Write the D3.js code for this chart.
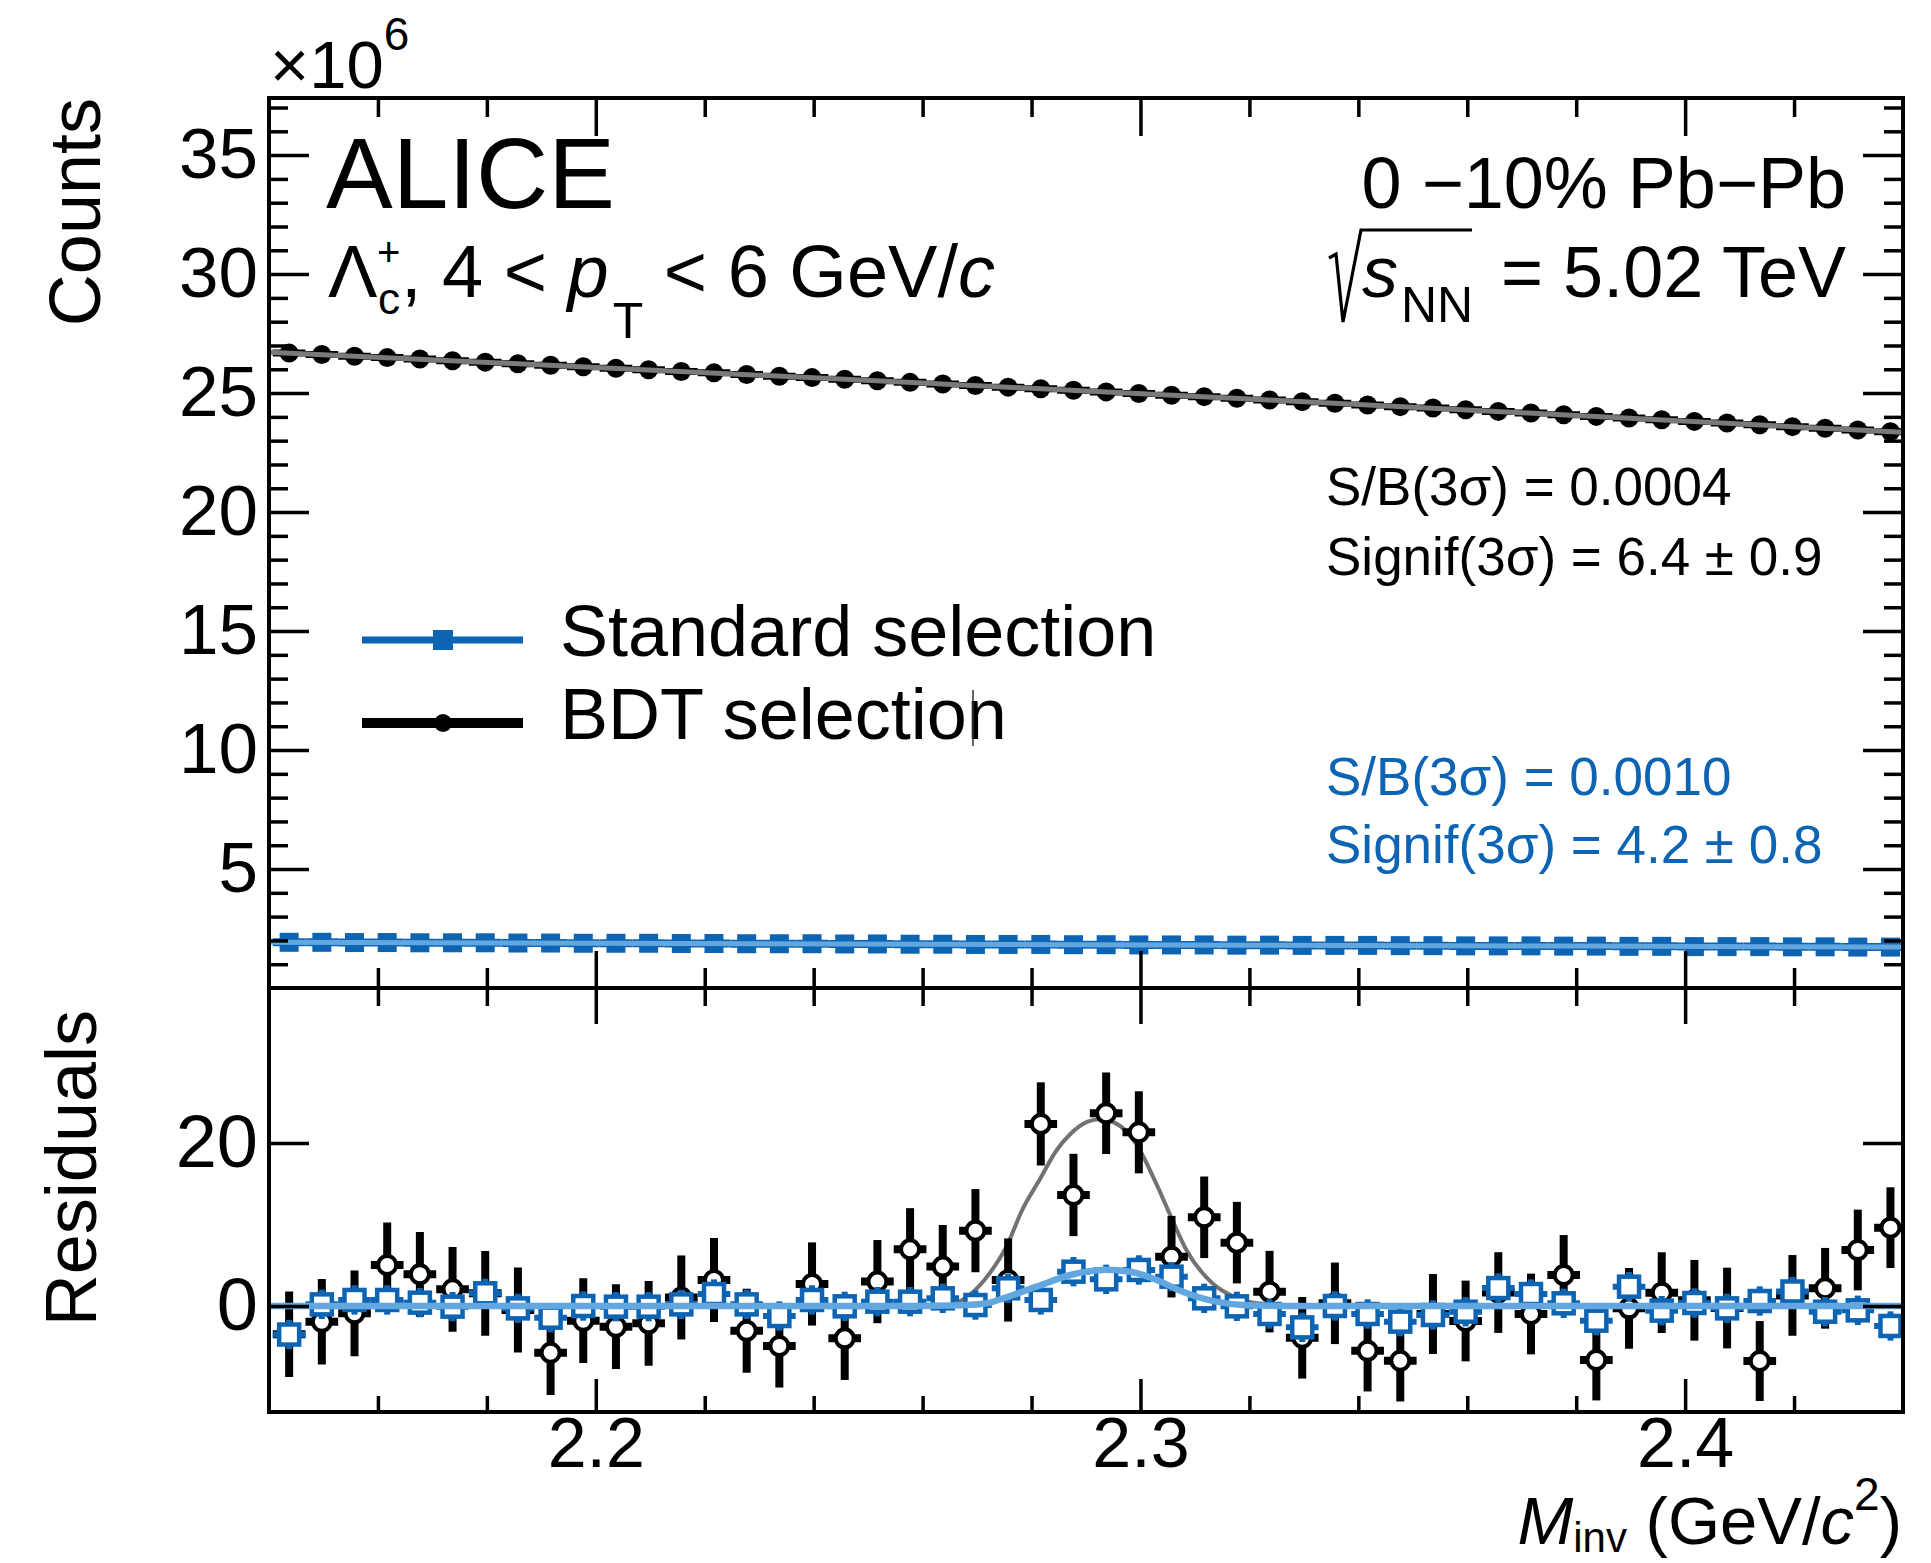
<!DOCTYPE html>
<html>
<head>
<meta charset="utf-8">
<script src="https://cdn.jsdelivr.net/npm/d3@7"></script>
<style>
  html, body { margin: 0; padding: 0; background: #ffffff; }
  svg { display: block; font-family: "Liberation Sans", Arial, Helvetica, sans-serif; }
</style>
</head>
<body>
<svg id="chart" width="1931" height="1563"></svg>
<script>
// ---------------- data ----------------
// invariant-mass bin centres (GeV/c^2), bin width 6 MeV
const massBins = [
  2.1437, 2.1497, 2.1557, 2.1617, 2.1677, 2.1737, 2.1797, 2.1857, 2.1917, 2.1977,
  2.2037, 2.2097, 2.2157, 2.2217, 2.2277, 2.2337, 2.2397, 2.2457, 2.2517, 2.2577,
  2.2637, 2.2697, 2.2757, 2.2817, 2.2877, 2.2937, 2.2997, 2.3057, 2.3117, 2.3177,
  2.3237, 2.3297, 2.3357, 2.3417, 2.3477, 2.3537, 2.3597, 2.3657, 2.3717, 2.3777,
  2.3837, 2.3897, 2.3957, 2.4017, 2.4077, 2.4137, 2.4197, 2.4257, 2.4317, 2.4377
];
const binWidth = 0.006;
const massRange = [2.14, 2.44];

// counts (x10^6) per bin
const countsBDT = [
  26.68, 26.62, 26.55, 26.49, 26.43, 26.36, 26.30, 26.23, 26.17, 26.11,
  26.04, 25.98, 25.91, 25.85, 25.78, 25.71, 25.65, 25.58, 25.52, 25.45,
  25.38, 25.32, 25.25, 25.18, 25.12, 25.05, 24.98, 24.91, 24.85, 24.78,
  24.71, 24.64, 24.57, 24.50, 24.43, 24.37, 24.30, 24.23, 24.16, 24.09,
  24.02, 23.95, 23.88, 23.81, 23.74, 23.67, 23.59, 23.52, 23.45, 23.38
];
const countsStd = [
  1.92, 1.92, 1.91, 1.91, 1.90, 1.90, 1.90, 1.89, 1.89, 1.88,
  1.88, 1.88, 1.87, 1.87, 1.86, 1.86, 1.86, 1.85, 1.85, 1.84,
  1.84, 1.83, 1.83, 1.83, 1.82, 1.82, 1.81, 1.81, 1.81, 1.80,
  1.80, 1.79, 1.79, 1.79, 1.78, 1.78, 1.77, 1.77, 1.77, 1.76,
  1.76, 1.75, 1.75, 1.74, 1.74, 1.74, 1.73, 1.73, 1.72, 1.72
];
const countsRange = [0, 37.4];

// total fits in the upper panel
const fitTopMass = [2.14, 2.20, 2.26, 2.29, 2.32, 2.38, 2.44];
const fitTopBDT  = [26.72, 26.08, 25.42, 25.09, 24.75, 24.06, 23.35];
const fitTopStd  = [1.92, 1.88, 1.84, 1.82, 1.80, 1.76, 1.72];

// residuals (data - background) per bin
const residBDT = [
  -3.47, -1.93, -0.90, 5.03, 3.89, 2.05, 1.56, -0.49, -5.73, -1.80,
  -2.54, -2.13, 1.05, 3.19, -3.03, -4.90, 2.70, -3.97, 2.99, 6.95,
  4.83, 9.24, 3.19, 22.33, 13.62, 23.64, 21.30, 6.05, 10.88, 7.77,
  1.76, -3.90, 0.33, -5.48, -6.71, -0.98, -1.84, 1.65, -0.98, 3.80,
  -6.63, -0.29, 1.64, 0.70, -0.25, -6.75, 1.30, 2.17, 6.87, 9.61
];
const residBDTErr = [
  5.25, 5.25, 5.25, 5.2, 5.2, 5.2, 5.2, 5.2, 5.2, 5.2,
  5.2, 5.2, 5.15, 5.15, 5.15, 5.1, 5.1, 5.1, 5.1, 5.05,
  5.1, 5.1, 5.1, 5.1, 5.05, 5.0, 5.03, 5.0, 5.0, 5.0,
  5.0, 5.0, 5.0, 5.0, 5.0, 4.9, 4.95, 4.95, 4.95, 4.9,
  4.95, 4.95, 4.95, 4.95, 4.95, 4.9, 4.95, 4.95, 4.95, 4.95
];
const residStd = [
  -3.50, 0.20, 0.74, 0.74, 0.41, -0.08, 1.56, -0.29, -1.43, 0.00,
  -0.08, -0.08, 0.20, 1.47, 0.20, -1.23, 0.74, -0.04, 0.53, 0.53,
  0.94, 0.12, 2.17, 0.74, 4.21, 3.27, 4.42, 3.60, 0.94, -0.04,
  -0.98, -2.62, 0.00, -0.98, -1.92, -1.10, -0.70, 2.20, 1.47, 0.33,
  -1.80, 2.37, -0.57, 0.37, -0.29, 0.61, 1.78, -0.70, -0.53, -2.45
];
const residStdErr = [
  1.8, 1.8, 1.8, 1.8, 1.8, 1.8, 1.8, 1.8, 1.8, 1.8,
  1.8, 1.8, 1.8, 1.8, 1.8, 1.8, 1.8, 1.8, 1.8, 1.8,
  1.8, 1.8, 1.8, 1.8, 1.8, 1.8, 1.8, 1.8, 1.8, 1.8,
  1.8, 1.8, 1.8, 1.8, 1.8, 1.8, 1.8, 1.8, 1.8, 1.8,
  1.8, 1.8, 1.8, 1.8, 1.8, 1.8, 1.8, 1.8, 1.8, 1.8
];
const residRange = [-13, 39];

// signal fits in the residual panel
const fitResMassBDT = [2.14, 2.255, 2.2626, 2.2659, 2.2686, 2.2723, 2.2754, 2.2783, 2.2815, 2.2846,
                       2.2870, 2.2903, 2.2925, 2.2955, 2.2993, 2.3029, 2.3053, 2.3084, 2.3132, 2.3170,
                       2.3194, 2.3255, 2.335, 2.44];
const fitResBDT     = [0, 0, 0.1, 0.35, 1.35, 4.0, 7.3, 11.8, 15.5, 19.1,
                       21.0, 22.6, 22.9, 22.4, 19.8, 15.0, 11.4, 6.9, 2.8, 1.2,
                       0.6, 0.1, 0, 0];
const fitResMassStd = [2.14, 2.255, 2.2656, 2.2718, 2.2748, 2.2809, 2.2871, 2.2904, 2.2935, 2.2981,
                       2.3030, 2.3072, 2.3134, 2.3195, 2.33, 2.44];
const fitResStd     = [0, 0, 0.05, 0.33, 0.94, 2.37, 3.8, 4.25, 4.45, 4.2,
                       3.2, 1.9, 0.6, 0.1, 0, 0];

// axis ticks
const xMajorTicks = [2.2, 2.3, 2.4];
const xMajorLabels = ["2.2", "2.3", "2.4"];
const yTopTicks = [5, 10, 15, 20, 25, 30, 35];
const yTopLabels = ["5", "10", "15", "20", "25", "30", "35"];
const yResTicks = [0, 20];
const yResLabels = ["0", "20"];

// ---------------- layout & style ----------------
const frame = { left: 269, right: 1903, top: 98, mid: 988, bottom: 1412 };
const colBlue = "#0d64b3";
const colLightBlue = "#62a7e0";
const colGrey = "#727272";

const svg = d3.select("#chart");
svg.append("rect").attr("width", 1931).attr("height", 1563).attr("fill", "#ffffff");

const x = d3.scaleLinear().domain(massRange).range([frame.left, frame.right]);
const yTop = d3.scaleLinear().domain(countsRange).range([frame.mid, frame.top]);
const yRes = d3.scaleLinear().domain(residRange).range([frame.bottom, frame.mid]);

const defs = svg.append("defs");
defs.append("clipPath").attr("id", "clipTop").append("rect")
  .attr("x", frame.left).attr("y", frame.top)
  .attr("width", frame.right - frame.left).attr("height", frame.mid - frame.top);
defs.append("clipPath").attr("id", "clipRes").append("rect")
  .attr("x", frame.left).attr("y", frame.mid)
  .attr("width", frame.right - frame.left).attr("height", frame.bottom - frame.mid);

// ---------------- upper panel ----------------
const gTop = svg.append("g").attr("clip-path", "url(#clipTop)");
const topStd = massBins.map((m, i) => ({ m, v: countsStd[i] }));
const topBDT = massBins.map((m, i) => ({ m, v: countsBDT[i] }));

gTop.selectAll("line.stdbar").data(topStd).join("line")
  .attr("x1", d => x(d.m - binWidth / 2)).attr("x2", d => x(d.m + binWidth / 2))
  .attr("y1", d => yTop(d.v)).attr("y2", d => yTop(d.v))
  .attr("stroke", colBlue).attr("stroke-width", 8);
gTop.selectAll("rect.stdpt").data(topStd).join("rect")
  .attr("x", d => x(d.m) - 9.5).attr("y", d => yTop(d.v) - 9.5)
  .attr("width", 19).attr("height", 19).attr("fill", colBlue);
gTop.append("path")
  .datum(fitTopMass.map((m, i) => [m, fitTopStd[i]]))
  .attr("d", d3.line().x(d => x(d[0])).y(d => yTop(d[1])))
  .attr("fill", "none").attr("stroke", colLightBlue).attr("stroke-width", 5);

gTop.selectAll("line.bdtbar").data(topBDT).join("line")
  .attr("x1", d => x(d.m - binWidth / 2)).attr("x2", d => x(d.m + binWidth / 2))
  .attr("y1", d => yTop(d.v)).attr("y2", d => yTop(d.v))
  .attr("stroke", "#000").attr("stroke-width", 7);
gTop.selectAll("circle.bdtpt").data(topBDT).join("circle")
  .attr("cx", d => x(d.m)).attr("cy", d => yTop(d.v)).attr("r", 9.5).attr("fill", "#000");
gTop.append("path")
  .datum(fitTopMass.map((m, i) => [m, fitTopBDT[i]]))
  .attr("d", d3.line().x(d => x(d[0])).y(d => yTop(d[1])))
  .attr("fill", "none").attr("stroke", "#7a7a7a").attr("stroke-width", 5);

// ---------------- residual panel ----------------
const gRes = svg.append("g").attr("clip-path", "url(#clipRes)");
const resBDT = massBins.map((m, i) => ({ m, v: residBDT[i], e: residBDTErr[i] }));
const resStd = massBins.map((m, i) => ({ m, v: residStd[i], e: residStdErr[i] }));
const smooth = d3.line().curve(d3.curveMonotoneX).x(d => x(d[0])).y(d => yRes(d[1]));

gRes.append("path")
  .datum(fitResMassBDT.map((m, i) => [m, fitResBDT[i]]))
  .attr("d", smooth).attr("fill", "none").attr("stroke", colGrey).attr("stroke-width", 4);

gRes.selectAll("line.bdtv").data(resBDT).join("line")
  .attr("x1", d => x(d.m)).attr("x2", d => x(d.m))
  .attr("y1", d => yRes(d.v - d.e)).attr("y2", d => yRes(d.v + d.e))
  .attr("stroke", "#000").attr("stroke-width", 8);
gRes.selectAll("line.bdth").data(resBDT).join("line")
  .attr("x1", d => x(d.m - binWidth / 2)).attr("x2", d => x(d.m + binWidth / 2))
  .attr("y1", d => yRes(d.v)).attr("y2", d => yRes(d.v))
  .attr("stroke", "#000").attr("stroke-width", 8);
gRes.selectAll("circle.bdtpt").data(resBDT).join("circle")
  .attr("cx", d => x(d.m)).attr("cy", d => yRes(d.v)).attr("r", 9)
  .attr("fill", "#fff").attr("stroke", "#000").attr("stroke-width", 4);

gRes.selectAll("line.stdv").data(resStd).join("line")
  .attr("x1", d => x(d.m)).attr("x2", d => x(d.m))
  .attr("y1", d => yRes(d.v - d.e)).attr("y2", d => yRes(d.v + d.e))
  .attr("stroke", colBlue).attr("stroke-width", 6);
gRes.selectAll("line.stdh").data(resStd).join("line")
  .attr("x1", d => x(d.m - binWidth / 2)).attr("x2", d => x(d.m + binWidth / 2))
  .attr("y1", d => yRes(d.v)).attr("y2", d => yRes(d.v))
  .attr("stroke", colBlue).attr("stroke-width", 6);
gRes.selectAll("rect.stdpt").data(resStd).join("rect")
  .attr("x", d => x(d.m) - 10).attr("y", d => yRes(d.v) - 10)
  .attr("width", 20).attr("height", 20)
  .attr("fill", "#fff").attr("stroke", colBlue).attr("stroke-width", 4.5);

gRes.append("path")
  .datum(fitResMassStd.map((m, i) => [m, fitResStd[i]]))
  .attr("d", smooth).attr("fill", "none").attr("stroke", colLightBlue).attr("stroke-width", 6.5);

// ---------------- frames and axes ----------------
const xMinor = d3.range(1, 15).map(i => +(2.14 + 0.02 * i).toFixed(2)).filter(v => !xMajorTicks.includes(v));
const yTopMinor = d3.range(1, 38).filter(v => !yTopTicks.includes(v));

function styleAxis(g) {
  g.select(".domain").remove();
  g.selectAll(".tick line").attr("stroke", "#000").attr("stroke-width", 3.5);
  g.selectAll("text").attr("fill", "#000").attr("font-family", null);
}
function addAxis(gen, tx, ty, fontSize) {
  const g = svg.append("g").attr("transform", `translate(${tx},${ty})`).call(gen);
  styleAxis(g);
  if (fontSize) g.selectAll("text").attr("font-size", fontSize);
  return g;
}
const noLab = () => "";

// upper panel y axis
addAxis(d3.axisLeft(yTop).tickValues(yTopTicks).tickSize(-40).tickPadding(11)
  .tickFormat((d, i) => yTopLabels[i]), frame.left, 0, 71);
addAxis(d3.axisLeft(yTop).tickValues(yTopMinor).tickSize(-19).tickFormat(noLab), frame.left, 0);
addAxis(d3.axisRight(yTop).tickValues(yTopTicks).tickSize(-40).tickFormat(noLab), frame.right, 0);
addAxis(d3.axisRight(yTop).tickValues(yTopMinor).tickSize(-19).tickFormat(noLab), frame.right, 0);
// upper panel x ticks (top and bottom borders)
addAxis(d3.axisTop(x).tickValues(xMajorTicks).tickSize(-38).tickFormat(noLab), 0, frame.top);
addAxis(d3.axisTop(x).tickValues(xMinor).tickSize(-19).tickFormat(noLab), 0, frame.top);
addAxis(d3.axisBottom(x).tickValues(xMajorTicks).tickSize(-37).tickFormat(noLab), 0, frame.mid);
addAxis(d3.axisBottom(x).tickValues(xMinor).tickSize(-20).tickFormat(noLab), 0, frame.mid);
// residual panel y axis
addAxis(d3.axisLeft(yRes).tickValues(yResTicks).tickSize(-40).tickPadding(11)
  .tickFormat((d, i) => yResLabels[i]), frame.left, 0, 74);
addAxis(d3.axisRight(yRes).tickValues(yResTicks).tickSize(-40).tickFormat(noLab), frame.right, 0);
// residual panel x axis
addAxis(d3.axisTop(x).tickValues(xMajorTicks).tickSize(-36).tickFormat(noLab), 0, frame.mid);
addAxis(d3.axisTop(x).tickValues(xMinor).tickSize(-18).tickFormat(noLab), 0, frame.mid);
const xLab = addAxis(d3.axisBottom(x).tickValues(xMajorTicks).tickSize(-33)
  .tickFormat((d, i) => xMajorLabels[i]), 0, frame.bottom, 70);
xLab.selectAll("text").attr("y", 55).attr("dy", null);
addAxis(d3.axisBottom(x).tickValues(xMinor).tickSize(-16).tickFormat(noLab), 0, frame.bottom);

svg.append("rect").attr("x", frame.left).attr("y", frame.top)
  .attr("width", frame.right - frame.left).attr("height", frame.mid - frame.top)
  .attr("fill", "none").attr("stroke", "#000").attr("stroke-width", 4);
svg.append("rect").attr("x", frame.left).attr("y", frame.mid)
  .attr("width", frame.right - frame.left).attr("height", frame.bottom - frame.mid)
  .attr("fill", "none").attr("stroke", "#000").attr("stroke-width", 4);

// ---------------- axis titles ----------------
const mult = svg.append("text").attr("x", 270).attr("y", 88).attr("font-size", 67);
mult.append("tspan").text("\u00d710");
mult.append("tspan").attr("font-size", 46).attr("dy", -38).text("6");

svg.append("text").attr("transform", "translate(100,98) rotate(-90)")
  .attr("text-anchor", "end").attr("font-size", 72).text("Counts");
svg.append("text").attr("transform", "translate(96,1010) rotate(-90)")
  .attr("text-anchor", "end").attr("font-size", 72).text("Residuals");

const xTitle = svg.append("text").attr("x", 1902).attr("y", 1544)
  .attr("text-anchor", "end").attr("font-size", 67);
xTitle.append("tspan").attr("font-style", "italic").text("M");
xTitle.append("tspan").attr("font-size", 42).attr("dy", 8).text("inv");
xTitle.append("tspan").attr("dy", -8).text(" (GeV/");
xTitle.append("tspan").attr("font-style", "italic").text("c");
xTitle.append("tspan").attr("font-size", 46).attr("dy", -34).text("2");
xTitle.append("tspan").attr("dy", 34).text(")");

// ---------------- annotations ----------------
svg.append("text").attr("x", 326).attr("y", 208).attr("font-size", 100).text("ALICE");

// Λc+ and the pT interval
svg.append("text").attr("x", 328).attr("y", 297).attr("font-size", 74).text("\u039b");
svg.append("text").attr("x", 377).attr("y", 266).attr("font-size", 40).text("+");
const kin = svg.append("text").attr("x", 378).attr("y", 297).attr("font-size", 74);
kin.append("tspan").attr("font-size", 44).attr("dy", 17).text("c");
kin.append("tspan").attr("dy", -17).attr("dx", 1).text(", 4 < ");
kin.append("tspan").attr("font-style", "italic").text("p");
kin.append("tspan").attr("font-size", 50).attr("dy", 41).attr("dx", 4).text("T");
kin.append("tspan").attr("dy", -41).text(" < 6 GeV/");
kin.append("tspan").attr("font-style", "italic").text("c");

svg.append("text").attr("x", 1846).attr("y", 208).attr("text-anchor", "end")
  .attr("font-size", 72).text("0 \u221210% Pb\u2212Pb");
svg.append("path").attr("d", "M1329,258 L1336,254 L1343,322 L1361,230 L1472,230")
  .attr("fill", "none").attr("stroke", "#000").attr("stroke-width", 3.2)
  .attr("stroke-linejoin", "miter");
const sqrtS = svg.append("text").attr("x", 1362).attr("y", 297).attr("font-size", 72);
sqrtS.append("tspan").attr("font-style", "italic").text("s");
sqrtS.append("tspan").attr("font-size", 50).attr("dy", 25).attr("dx", 3).text("NN");
svg.append("text").attr("x", 1846).attr("y", 297).attr("text-anchor", "end")
  .attr("font-size", 72).text("= 5.02 TeV");

const statLines = [
  { text: "S/B(3\u03c3) = 0.0004", y: 505, color: "#000" },
  { text: "Signif(3\u03c3) = 6.4 \u00b1 0.9", y: 575, color: "#000" },
  { text: "S/B(3\u03c3) = 0.0010", y: 795, color: colBlue },
  { text: "Signif(3\u03c3) = 4.2 \u00b1 0.8", y: 863, color: colBlue }
];
svg.selectAll("text.stat").data(statLines).join("text")
  .attr("x", 1326).attr("y", d => d.y).attr("font-size", 53)
  .attr("fill", d => d.color).text(d => d.text);

// ---------------- legend ----------------
const leg = svg.append("g");
leg.append("line").attr("x1", 362).attr("x2", 523).attr("y1", 640).attr("y2", 640)
  .attr("stroke", colBlue).attr("stroke-width", 7);
leg.append("rect").attr("x", 433).attr("y", 630).attr("width", 20).attr("height", 20).attr("fill", colBlue);
leg.append("text").attr("x", 560).attr("y", 656).attr("font-size", 72).text("Standard selection");
leg.append("line").attr("x1", 362).attr("x2", 523).attr("y1", 723).attr("y2", 723)
  .attr("stroke", "#000").attr("stroke-width", 10);
leg.append("circle").attr("cx", 443).attr("cy", 723).attr("r", 9).attr("fill", "#000");
leg.append("text").attr("x", 560).attr("y", 739).attr("font-size", 72).text("BDT selection");
leg.append("line").attr("x1", 973).attr("x2", 973).attr("y1", 690).attr("y2", 746)
  .attr("stroke", "#333").attr("stroke-width", 1.5);
</script>
</body>
</html>
